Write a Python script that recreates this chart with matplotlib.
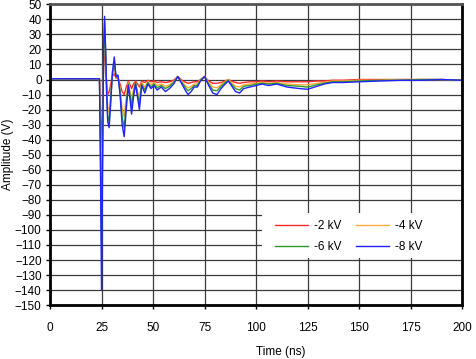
import matplotlib
matplotlib.use('Agg')
import matplotlib.pyplot as plt
from matplotlib.patches import Rectangle

plt.rcParams['font.family'] = ['Liberation Sans', 'DejaVu Sans']

# time axis (ns)
t_ns = [0, 10, 20, 24, 24.5, 25, 25.5, 26, 26.5, 27, 27.5, 28, 28.7, 29.5, 30.3,
        31.2, 32, 33, 34, 35, 36, 37, 38, 39, 39.6, 40.5, 41.5, 42.5, 43.4, 44.5,
        46, 47.5, 49, 50.5, 52, 54, 56, 58, 60, 62, 64, 66, 67, 68.5, 70,
        71.5, 73, 75, 77, 79, 81, 83, 85, 86.5, 88, 90, 92, 94, 97, 100,
        103, 106, 110, 115, 121, 125, 129.5, 133, 137, 142, 150, 160, 170, 180, 190,
        200]

# amplitude (V) per ESD level
v_2kv = [0.5, 0.5, 0.5, 0.5, -20, -45, -20, 8, 22, 10, -3, -10, -8, -3, 2,
         4, 1, 1, -3, -8, -10, -5, -1, -4, -6, -3, -1, -3, -5, -1,
         -2, -0.5, -1.5, -1, -2, -1.5, -2, -1.5, -0.5, 2, -0.5, -2, -2.5, -2, -1.5,
         -1.5, 0, 2, -1, -2.5, -2.5, -2, -1, 0, -1, -2, -2.5, -2, -1.5, -1.5,
         -1, -1.5, -1, -1.5, -1.5, -1.5, -1, -1, -0.5, -0.5, 0, 0, 0, 0, 0,
         -0.5]
v_4kv = [0.5, 0.5, 0.5, 0.5, -35, -80, -40, 12, 32, 15, -6, -18, -22, -9, 3,
         8, 2, 2, -6, -19, -25, -12, -2, -9, -14, -7, -2, -8, -12, -2,
         -5, -1.5, -3.5, -2, -4, -3, -4.5, -3.5, -1.5, 2, -1.5, -4.5, -5.5, -4.5, -3,
         -3, 0, 2, -2, -5, -5.5, -3.5, -1.5, 0, -2, -4.5, -5, -3.5, -3, -2.5,
         -2, -2.5, -2, -3, -3.5, -3.5, -2.5, -2, -1, -1, -0.5, -0.5, 0, 0, 0,
         -0.5]
v_6kv = [0.5, 0.5, 0.5, 0.5, -45, -110, -50, 15, 38, 18, -8, -24, -28, -12, 4,
         12, 2, 2, -8, -25, -32, -16, -3, -12, -18, -9, -2, -10, -16, -3,
         -7, -2, -5, -3, -5.5, -4, -6, -4.5, -2, 2, -2, -6, -7.5, -6, -4,
         -4, -0.5, 2, -3, -7, -7.5, -4.5, -2, -0.5, -3, -6, -7, -4.5, -4, -3,
         -2.5, -3, -2.5, -4, -4.5, -5, -3.5, -2.5, -1.5, -1.5, -1, -0.5, -0.5, 0, 0,
         -0.5]
v_8kv = [0.5, 0.5, 0.5, 0.5, -60, -140, -60, 20, 42, 20, -10, -28, -32, -15, 5,
         15, 2, 3, -10, -30, -38, -20, -4, -15, -23, -12, -3, -12, -20, -4,
         -9, -3, -6, -4, -7, -5, -8, -6, -3, 2, -3, -8, -10, -8, -5,
         -5, -1, 2, -4, -9, -10, -6, -3, -1, -4, -8, -9, -6, -5, -4,
         -3, -4, -3, -5, -6, -6.5, -4.5, -3, -2, -2, -1.5, -1, -0.5, -0.5, 0,
         -0.5]

fig = plt.figure(figsize=(4.76, 3.59), dpi=100)
ax = fig.add_axes([0.105, 0.150, 0.866, 0.838])

l2, = ax.plot(t_ns, v_2kv, color='#ff2a2a', lw=1.0, label='-2 kV')
l4, = ax.plot(t_ns, v_4kv, color='#ffaa3c', lw=1.0, label='-4 kV')
l6, = ax.plot(t_ns, v_6kv, color='#2a9a2a', lw=1.0, label='-6 kV')
l8, = ax.plot(t_ns, v_8kv, color='#2222ff', lw=1.0, label='-8 kV')

ax.set_xlim(0, 200)
ax.set_ylim(-150, 50)
ax.set_xticks(range(0, 201, 25))
ax.set_yticks(range(-150, 51, 10))
ax.grid(True, color='#3a3a3a', lw=0.9)
ax.set_axisbelow(True)

for side in ['left', 'bottom', 'right']:
    ax.spines[side].set_linewidth(2)
    ax.spines[side].set_color('black')
ax.spines['top'].set_linewidth(2)
ax.spines['top'].set_color('#555555')

ax.tick_params(axis='both', labelsize=8.5, length=3, width=1, direction='out')
ax.tick_params(axis='x', pad=9)
ax.tick_params(axis='y', pad=3)

ax.set_xlabel('Time (ns)', fontsize=8.5)
ax.xaxis.set_label_coords(0.56, -0.135)
ax.set_ylabel('Amplitude (V)', fontsize=8.5)
ax.yaxis.set_label_coords(-0.088, 0.5)

# white legend background hiding the grid
ax.add_patch(Rectangle((0.515, 0.157), 0.485, 0.15, transform=ax.transAxes,
                       facecolor='white', edgecolor='none', zorder=1))

ax.legend([l2, l6, l4, l8], ['-2 kV', '-6 kV', '-4 kV', '-8 kV'], ncol=2,
          loc='upper left', bbox_to_anchor=(0.545, 0.283), frameon=False,
          fontsize=8.5, borderpad=0, borderaxespad=0, handlelength=2.8,
          handletextpad=0.5, columnspacing=1.3, labelspacing=0.75)

plt.savefig('out.png', dpi=100, facecolor='white')
